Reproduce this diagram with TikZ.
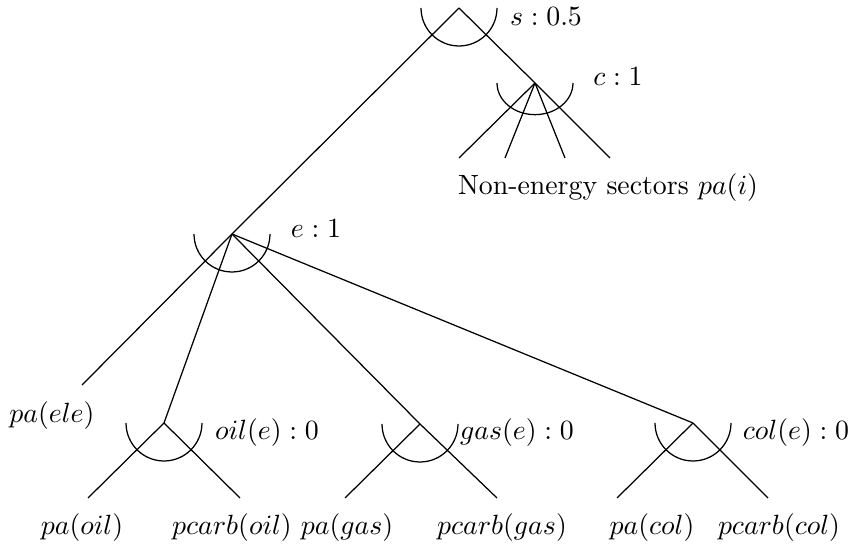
\documentclass[tikz,border=0pt]{standalone}
\usepackage{tikz}

\begin{document}
\begin{tikzpicture}[
  x=0.01264cm, y=-0.01264cm,
  branch/.style={draw=black, line width=0.45pt},
  nestarc/.style={draw=black, line width=0.45pt},
  lbl/.style={inner sep=0pt},
]
\useasboundingbox (0,0) rectangle (848,548);

% ---------------- NESTS (apex points) ----------------
\coordinate (s)   at (459,8);
\coordinate (c)   at (535,83);
\coordinate (e)   at (232,234);
\coordinate (oil) at (164,423);
\coordinate (gas) at (420,424);
\coordinate (col) at (693,423);

% ---------------- LEAF ENDS ----------------
\coordinate (ne1)  at (459,158);
\coordinate (ne2)  at (505,158);
\coordinate (ne3)  at (565,158);
\coordinate (ne4)  at (610,158);
\coordinate (ele)  at (82,385);
\coordinate (oilL) at (88,498);
\coordinate (oilR) at (240,498);
\coordinate (gasL) at (345,498);
\coordinate (gasR) at (497,498);
\coordinate (colL) at (617,498);
\coordinate (colR) at (768,498);

% ---------------- ARCS ----------------
\foreach \n/\ry in {s/0.48,c/0.40,e/0.48,oil/0.48,gas/0.48,col/0.48}
  \draw[nestarc] ([xshift=-0.48cm]\n) arc[start angle=180, end angle=360,
                 x radius=0.48cm, y radius=\ry cm];

% ---------------- BRANCHES ----------------
\draw[branch] (s) -- (e);
\draw[branch] (s) -- (c);
\foreach \k in {1,...,4}
  \draw[branch] (c) -- (ne\k);
\draw[branch] (e) -- (ele);
\draw[branch] (e) -- (oil);
\draw[branch] (e) -- (gas);
\draw[branch] (e) -- (col);
\foreach \n in {oil,gas,col} {
  \draw[branch] (\n) -- (\n L);
  \draw[branch] (\n) -- (\n R);
}

% ---------------- LABELS ----------------
\node[lbl] (sLbl)   at (546,17)  {$s:0.5$};
\node[lbl] (cLbl)   at (618,77)  {$c:1$};
\node[lbl] (neLbl)  at (608,188) {Non-energy sectors $pa(i)$};
\node[lbl] (eLbl)   at (316,229) {$e:1$};
\node[lbl] (eleLbl) at (52,416)  {$pa(ele)$};
\node[lbl] (oilLbl) at (267,433) {$oil(e):0$};
\node[lbl] (gasLbl) at (517,433) {$gas(e):0$};
\node[lbl] (colLbl) at (796,433) {$col(e):0$};
\node[lbl] (paOil)  at (82,528)  {$pa(oil)$};
\node[lbl] (pcOil)  at (232,528) {$pcarb(oil)$};
\node[lbl] (paGas)  at (347,528) {$pa(gas)$};
\node[lbl] (pcGas)  at (502,528) {$pcarb(gas)$};
\node[lbl] (paCol)  at (652,528) {$pa(col)$};
\node[lbl] (pcCol)  at (779,528) {$pcarb(col)$};
\end{tikzpicture}
\end{document}
